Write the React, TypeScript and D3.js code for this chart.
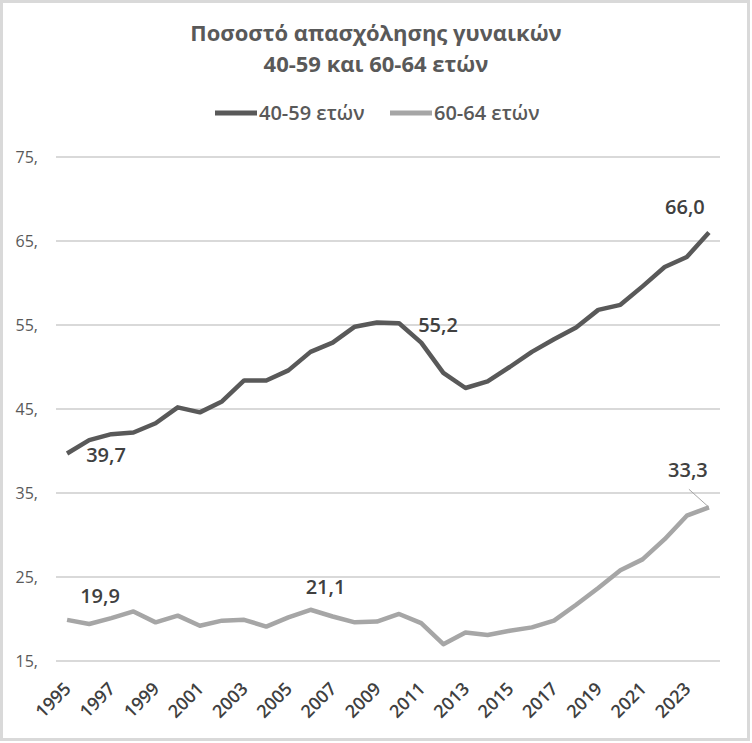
import { useEffect, useRef } from 'react';
import * as d3 from 'd3';

const years = d3.range(1995, 2025);

const women4059 = [
  39.7, 41.3, 42.0, 42.2, 43.3, 45.2, 44.6, 45.9, 48.4, 48.4,
  49.6, 51.8, 52.9, 54.8, 55.3, 55.2, 52.9, 49.3, 47.5, 48.3,
  50.0, 51.8, 53.3, 54.7, 56.8, 57.4, 59.6, 61.9, 63.1, 66.0,
];

const women6064 = [
  19.9, 19.4, 20.1, 20.9, 19.6, 20.4, 19.2, 19.8, 19.9, 19.1,
  20.2, 21.1, 20.3, 19.6, 19.7, 20.6, 19.5, 17.0, 18.4, 18.1,
  18.6, 19.0, 19.8, 21.7, 23.7, 25.8, 27.1, 29.5, 32.3, 33.3,
];

const yTicks = [15, 25, 35, 45, 55, 65, 75];
const xTickYears = d3.range(1995, 2025, 2);

const seriesNames = ['40-59 ετών', '60-64 ετών'];
const titleLines = ['Ποσοστό απασχόλησης γυναικών', '40-59 και 60-64 ετών'];

// years that carry a value label, per series
const labelled4059 = [1995, 2010, 2024];
const labelled6064 = [1995, 2006, 2024];

const W = 752;
const H = 743;
const FONT = "'Open Sans', sans-serif";

const App = () => {
  const svgRef = useRef(null);

  useEffect(() => {
    const svg = d3.select(svgRef.current);
    svg.selectAll('*').remove();

    const margin = { top: 157, right: 32, bottom: 82, left: 56 };

    const x = d3.scalePoint<number>()
      .domain(years)
      .range([margin.left, W - margin.right])
      .padding(0.5);

    const y = d3.scaleLinear()
      .domain([15, 75])
      .range([H - margin.bottom, margin.top]);

    svg.append('rect')
      .attr('width', W).attr('height', H).attr('fill', '#fff');

    svg.append('rect')
      .attr('x', 1.5).attr('y', 1.5)
      .attr('width', W - 5).attr('height', H - 5)
      .attr('fill', 'none')
      .attr('stroke', '#d9d9d9')
      .attr('stroke-width', 3);

    // title
    svg.append('g')
      .selectAll('text')
      .data(titleLines)
      .enter()
      .append('text')
      .attr('x', W / 2)
      .attr('y', (_, i) => 41 + i * 31)
      .attr('text-anchor', 'middle')
      .attr('font-family', FONT)
      .attr('font-weight', 700)
      .attr('font-size', 22)
      .attr('fill', '#595959')
      .text(d => d);

    // grid + y labels
    const grid = svg.append('g');
    grid.selectAll('line')
      .data(yTicks)
      .enter()
      .append('line')
      .attr('x1', margin.left)
      .attr('x2', W - margin.right)
      .attr('y1', d => y(d))
      .attr('y2', d => y(d))
      .attr('stroke', '#d9d9d9')
      .attr('stroke-width', 2);

    grid.selectAll('text')
      .data(yTicks)
      .enter()
      .append('text')
      .attr('x', 38)
      .attr('y', d => y(d))
      .attr('dy', '0.35em')
      .attr('text-anchor', 'end')
      .attr('font-family', FONT)
      .attr('font-size', 16)
      .attr('fill', '#595959')
      .text(d => `${d},`);

    // x labels, rotated
    svg.append('g')
      .selectAll('text')
      .data(xTickYears)
      .enter()
      .append('text')
      .attr('transform', d => `translate(${x(d)! + 5},${H - 53}) rotate(-45)`)
      .attr('text-anchor', 'end')
      .attr('font-family', FONT)
      .attr('font-weight', 600)
      .attr('font-size', 18)
      .attr('fill', '#404040')
      .text(d => d);

    const line = d3.line<number>()
      .x((_, i) => x(years[i])!)
      .y(d => y(d));

    const series = [
      { name: seriesNames[0], data: women4059, color: '#595959' },
      { name: seriesNames[1], data: women6064, color: '#a6a6a6' },
    ];

    series.slice().reverse().forEach(s => {
      svg.append('path')
        .datum(s.data)
        .attr('fill', 'none')
        .attr('stroke', s.color)
        .attr('stroke-width', 4.5)
        .attr('stroke-linejoin', 'round')
        .attr('d', line);
    });

    // value labels
    const fmt = (v: number) => v.toFixed(1).replace('.', ',');
    const labels = [
      ...labelled4059.map((yr, k) => ({
        yr, v: women4059[years.indexOf(yr)],
        dx: [39, 39, -24][k], dy: [8.5, 9, -19][k],
      })),
      ...labelled6064.map((yr, k) => ({
        yr, v: women6064[years.indexOf(yr)],
        dx: [33, 15, -21][k], dy: [-17, -16, -30][k],
      })),
    ];

    svg.append('g')
      .selectAll('text')
      .data(labels)
      .enter()
      .append('text')
      .attr('x', d => x(d.yr)! + d.dx)
      .attr('y', d => y(d.v) + d.dy)
      .attr('text-anchor', 'middle')
      .attr('font-family', FONT)
      .attr('font-weight', 600)
      .attr('font-size', 20)
      .attr('fill', '#404040')
      .text(d => fmt(d.v));

    // leader line for the last 60-64 value
    const lastYear = years[years.length - 1];
    svg.append('line')
      .attr('x1', x(lastYear)! - 20)
      .attr('y1', y(women6064[women6064.length - 1]) - 18)
      .attr('x2', x(lastYear)!)
      .attr('y2', y(women6064[women6064.length - 1]))
      .attr('stroke', '#a6a6a6')
      .attr('stroke-width', 1);

    // legend
    const legend = svg.append('g');
    const legendX = [215, 390];
    series.forEach((s, i) => {
      legend.append('line')
        .attr('x1', legendX[i])
        .attr('x2', legendX[i] + 42)
        .attr('y1', 113)
        .attr('y2', 113)
        .attr('stroke', s.color)
        .attr('stroke-width', 5);
      legend.append('text')
        .attr('x', legendX[i] + 44)
        .attr('y', 120)
        .attr('font-family', FONT)
        .attr('font-weight', 600)
        .attr('font-size', 20)
        .attr('fill', '#595959')
        .text(s.name);
    });
  }, []);

  return (
    <div style={{ position: 'absolute', left: 0, top: 0 }}>
      <svg ref={svgRef} width={W} height={H} style={{ display: 'block' }}></svg>
    </div>
  );
};

export default App;
